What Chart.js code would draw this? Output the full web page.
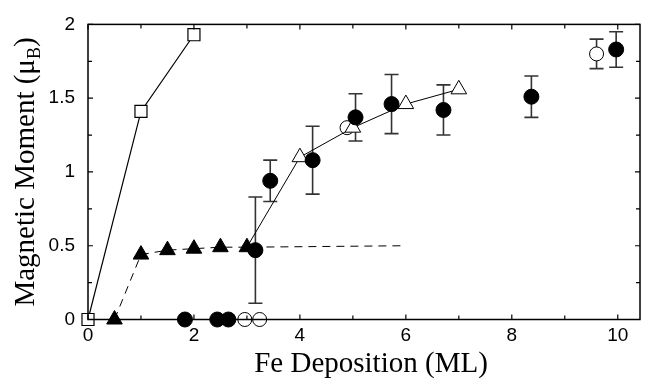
<!DOCTYPE html>
<html>
<head>
<meta charset="utf-8">
<script src="https://cdn.jsdelivr.net/npm/chart.js@4.4.1/dist/chart.umd.min.js"></script>
<style>
  body { margin: 0; background: #fff; }
  #wrap { width: 650px; height: 381px; }
</style>
</head>
<body>
<div id="wrap"><canvas id="grafica"></canvas></div>
<script>
// open squares
const sqX = [0, 1, 2];
const sqY = [0, 1.41, 1.93];
// filled triangles, dashed (last point is the end of the dashed guide)
const triFillX = [0.5, 1, 1.5, 2, 2.5, 3, 6];
const triFillY = [0, 0.44, 0.47, 0.48, 0.49, 0.49, 0.5];
// open triangles, solid line starting at the last filled triangle
const triOpenX = [3, 4, 5, 6, 7];
const triOpenY = [0.49, 1.10, 1.30, 1.46, 1.56];
// filled circles with error bars
const dotX = [1.83, 2.44, 2.65, 3.16, 3.44, 4.24, 5.05, 5.73, 6.71, 8.37, 9.97];
const dotY = [0, 0, 0, 0.47, 0.94, 1.08, 1.37, 1.46, 1.42, 1.51, 1.83];
const dotErr = [0, 0, 0, 0.36, 0.14, 0.23, 0.16, 0.2, 0.17, 0.14, 0.12];
// open circles
const ringX = [2.96, 3.24, 4.89, 9.6];
const ringY = [0, 0, 1.3, 1.8];
const ringErr = [0, 0, 0, 0.1];

const xTicks = [0, 2, 4, 6, 8, 10];
const yTicks = [0, 0.5, 1, 1.5, 2];
const yTickLabels = ['0', '0.5', '1', '1.5', '2'];

const pts = (xs, ys) => xs.map((x, i) => ({ x: x, y: ys[i] }));

// error bars drawn through the scales
const errorBars = {
  id: 'errorBars',
  beforeDatasetsDraw(chart) {
    const { ctx, scales: { x, y } } = chart;
    ctx.save();
    ctx.strokeStyle = '#333';
    ctx.lineWidth = 1.6;
    const draw = (xs, ys, es) => xs.forEach((v, i) => {
      if (!es[i]) return;
      const px = x.getPixelForValue(v);
      const t = y.getPixelForValue(ys[i] + es[i]);
      const b = y.getPixelForValue(ys[i] - es[i]);
      ctx.beginPath();
      ctx.moveTo(px, t); ctx.lineTo(px, b);
      ctx.moveTo(px - 7, t); ctx.lineTo(px + 7, t);
      ctx.moveTo(px - 7, b); ctx.lineTo(px + 7, b);
      ctx.stroke();
    });
    draw(dotX, dotY, dotErr);
    draw(ringX, ringY, ringErr);
    ctx.restore();
  }
};

// frame, inner ticks and axis titles
const frame = {
  id: 'frame',
  afterDraw(chart) {
    const { ctx, chartArea: a, scales: { x, y } } = chart;
    ctx.save();
    ctx.strokeStyle = '#000';
    ctx.lineWidth = 1.5;
    ctx.strokeRect(a.left, a.top, a.right - a.left, a.bottom - a.top);
    ctx.lineWidth = 1.2;
    ctx.beginPath();
    for (let v = 0; v <= 10; v++) {
      const px = x.getPixelForValue(v);
      const len = v % 2 === 0 ? 5 : 4;
      ctx.moveTo(px, a.bottom); ctx.lineTo(px, a.bottom - len);
      ctx.moveTo(px, a.top); ctx.lineTo(px, a.top + len);
    }
    for (let v = 0; v <= 2; v += 0.25) {
      const py = y.getPixelForValue(v);
      const len = (v * 2) % 1 === 0 ? 5 : 4;
      ctx.moveTo(a.left, py); ctx.lineTo(a.left + len, py);
      ctx.moveTo(a.right, py); ctx.lineTo(a.right - len, py);
    }
    ctx.stroke();

    ctx.fillStyle = '#000';
    ctx.font = '29px "Liberation Serif"';
    ctx.textAlign = 'center';
    ctx.textBaseline = 'alphabetic';
    ctx.fillText('Fe Deposition (ML)', 371, 372);

    ctx.translate(34, 172);
    ctx.rotate(-Math.PI / 2);
    ctx.textAlign = 'left';
    const main = 'Magnetic Moment (\u03bc', sub = 'B', close = ')';
    ctx.font = '29px "Liberation Serif"';
    const w1 = ctx.measureText(main).width, w3 = ctx.measureText(close).width;
    ctx.font = '18px "Liberation Serif"';
    const w2 = ctx.measureText(sub).width;
    let sx = -(w1 + w2 + w3) / 2;
    ctx.font = '29px "Liberation Serif"';
    ctx.fillText(main, sx, 0);
    ctx.font = '18px "Liberation Serif"';
    ctx.fillText(sub, sx + w1, 6);
    ctx.font = '29px "Liberation Serif"';
    ctx.fillText(close, sx + w1 + w2, 0);
    ctx.restore();
  }
};

const ctx = document.getElementById('grafica').getContext('2d');
let myChart = new Chart(ctx, {
  type: 'scatter',
  data: {
    datasets: [
      {
        label: 'filled circles',
        data: pts(dotX, dotY),
        order: 0,
        pointStyle: 'circle',
        pointRadius: 7.5,
        backgroundColor: '#000',
        borderColor: '#000',
        borderWidth: 1,
        showLine: false,
        clip: false
      },
      {
        label: 'open triangles',
        data: pts(triOpenX, triOpenY),
        order: 1,
        pointStyle: 'triangle',
        pointRadius: c => c.dataIndex === 0 ? 0 : 9,
        backgroundColor: '#fff',
        borderColor: '#000',
        borderWidth: 1,
        showLine: true,
        clip: false
      },
      {
        label: 'open circles',
        data: pts(ringX, ringY),
        order: 2,
        pointStyle: 'circle',
        pointRadius: 7,
        backgroundColor: '#fff',
        borderColor: '#000',
        borderWidth: 1,
        showLine: false,
        clip: false
      },
      {
        label: 'filled triangles',
        data: pts(triFillX, triFillY),
        order: 3,
        pointStyle: 'triangle',
        pointRadius: c => c.dataIndex === triFillX.length - 1 ? 0 : 9,
        backgroundColor: '#000',
        borderColor: '#000',
        borderWidth: 1,
        borderDash: [8, 6],
        showLine: true,
        clip: false
      },
      {
        label: 'open squares',
        data: pts(sqX, sqY),
        order: 4,
        pointStyle: 'rect',
        pointRadius: 8.5,
        backgroundColor: '#fff',
        borderColor: '#000',
        borderWidth: 1.2,
        showLine: true,
        clip: false
      }
    ]
  },
  options: {
    responsive: true,
    maintainAspectRatio: false,
    animation: false,
    layout: { padding: { top: 16.5, right: 0, left: 0, bottom: 0 } },
    plugins: { legend: { display: false }, tooltip: { enabled: false } },
    scales: {
      x: {
        type: 'linear',
        min: 0,
        max: 10.42,
        afterBuildTicks: s => { s.ticks = xTicks.map(v => ({ value: v })); },
        afterFit: s => { s.height = 61.5; },
        grid: { display: false, drawTicks: false },
        border: { display: false },
        ticks: { color: '#000', padding: 5, font: { family: 'Liberation Sans', size: 19 } }
      },
      y: {
        type: 'linear',
        min: 0,
        max: 2,
        afterBuildTicks: s => { s.ticks = yTicks.map(v => ({ value: v })); },
        afterFit: s => { s.width = 88; },
        grid: { display: false, drawTicks: false },
        border: { display: false },
        ticks: {
          color: '#000',
          padding: 13,
          font: { family: 'Liberation Sans', size: 19 },
          callback: (v, i) => yTickLabels[i]
        }
      }
    }
  },
  plugins: [errorBars, frame]
});
</script>
</body>
</html>
